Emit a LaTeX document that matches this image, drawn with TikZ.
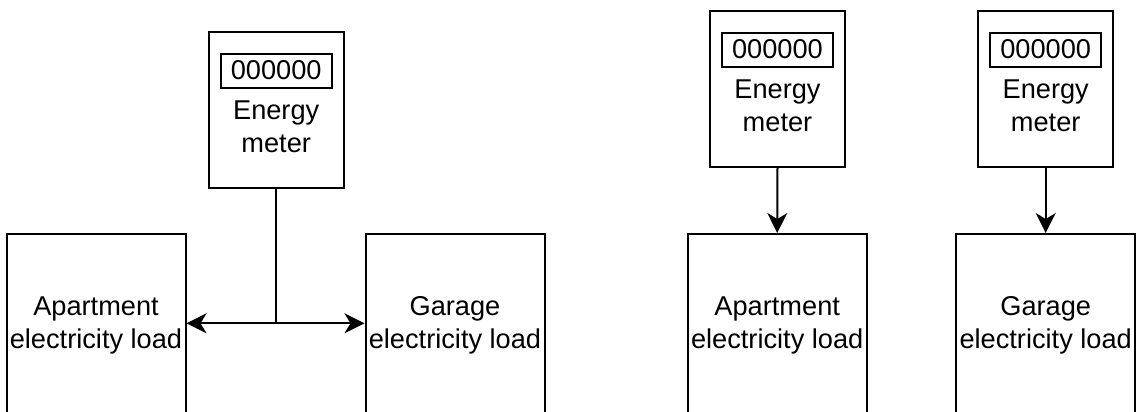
\documentclass[tikz,border=0pt]{standalone}
\usepackage{fontspec}
\setmainfont{Liberation Sans}
\usetikzlibrary{arrows.meta}
\begin{document}
\begin{tikzpicture}[x=0.5pt,y=-0.5pt,
  every node/.style={font=\fontsize{13.6pt}{16.6pt}\selectfont, inner sep=0pt},
  box/.style={draw, line width=1pt, rectangle, inner sep=0pt},
  meterbox/.style={box, minimum width=67.5pt, minimum height=77.8pt},
  display/.style={box, minimum width=55.5pt, minimum height=17pt},
  loadbox/.style={box, minimum width=89.5pt, minimum height=96pt},
  lbl/.style={align=center},
  wire/.style={line width=1pt},
  arr/.style={line width=1pt, -{Stealth[length=10pt,width=10pt,inset=3pt]}}]
\clip (0,0) rectangle (1137,412);
\fill[white] (0,0) rectangle (1137,412);
% ---------- left panel ----------
\node[meterbox] (m1) at (276.2,110) {};
\node[display] (d1) at (276.2,70.5) {000000};
\node[lbl] (t1) at (276.2,127) {Energy\\meter};
\node[loadbox] (a1) at (96,330) {};
\node[lbl] (ta1) at (96,325.5) {Apartment\\electricity load};
\node[loadbox] (g1) at (455,330) {};
\node[lbl] (tg1) at (455,325.5) {Garage\\electricity load};
\coordinate (j1) at (276.2,323.3);
\draw[wire] (m1.south) -- (j1);
\draw[arr] (j1) -- (a1.east |- j1);
\draw[arr] (j1) -- (g1.west |- j1);
% ---------- right panel ----------
\node[meterbox] (m2) at (777.5,89) {};
\node[display] (d2) at (777.5,49.5) {000000};
\node[lbl] (t2) at (777.5,106) {Energy\\meter};
\node[meterbox] (m3) at (1045.7,89) {};
\node[display] (d3) at (1045.7,49.5) {000000};
\node[lbl] (t3) at (1045.7,106) {Energy\\meter};
\node[loadbox] (a2) at (777.2,330) {};
\node[lbl] (ta2) at (777.2,325.5) {Apartment\\electricity load};
\node[loadbox] (g2) at (1045.7,330) {};
\node[lbl] (tg2) at (1045.7,325.5) {Garage\\electricity load};
\draw[arr] (m2.south) -- (a2.north);
\draw[arr] (m3.south) -- (g2.north);
\end{tikzpicture}
\end{document}
